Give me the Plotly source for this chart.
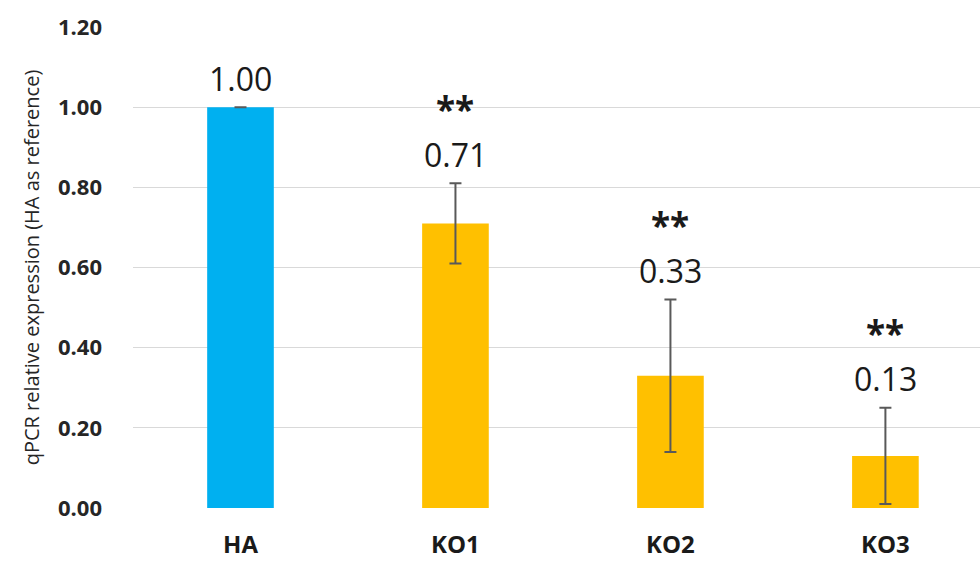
import plotly.graph_objects as go

categories = ["HA", "KO1", "KO2", "KO3"]
values = [1.00, 0.71, 0.33, 0.13]
errors = [0.0, 0.10, 0.19, 0.12]
significance = ["", "**", "**", "**"]
bar_colors = ["#00B0F0", "#FFC000", "#FFC000", "#FFC000"]
y_ticks = [0, 0.2, 0.4, 0.6, 0.8, 1.0, 1.2]

fig = go.Figure()
fig.add_trace(go.Bar(
    x=categories, y=values, width=0.31,
    marker=dict(color=bar_colors, line=dict(width=0)),
    error_y=dict(type="data", array=errors, visible=True, color="#595959", thickness=2, width=6),
))

for c, v, e, s in zip(categories, values, errors, significance):
    fig.add_annotation(x=c, y=v + e, text=f"{v:.2f}", showarrow=False, yanchor="middle",
                       yshift=29, font=dict(family="Open Sans, Noto Sans, sans-serif", size=32, color="#1a1a1a"))
    if s:
        fig.add_annotation(x=c, y=v + e, text=s, showarrow=False, yanchor="middle",
                           yshift=75, font=dict(family="Open Sans, sans-serif", size=35, color="#1a1a1a", weight="bold"))

fig.update_layout(
    width=980, height=561,
    margin=dict(l=133, r=0, t=27, b=53),
    plot_bgcolor="white", paper_bgcolor="white",
    showlegend=False,
    xaxis=dict(range=[-0.5, 3.44], showgrid=False, zeroline=False, showline=False, automargin=False,
               tickfont=dict(family="Open Sans, sans-serif", size=24, color="#1a1a1a", weight="bold"),
               ticklabelstandoff=20),
    yaxis=dict(range=[0, 1.2], tickvals=y_ticks, tickformat=".2f", automargin=False,
               showgrid=True, gridcolor="#d9d9d9", gridwidth=1.2, zeroline=False, showline=False,
               tickfont=dict(family="Open Sans, sans-serif", size=22, color="#262626", weight="bold"),
               ticklabelstandoff=30,
               title=dict(text="qPCR relative expression (HA as reference)", standoff=12,
                          font=dict(family="Open Sans, sans-serif", size=20, color="#262626"))),
)

fig.write_html("out.html", config={"displayModeBar": False},
               post_script="document.body.style.margin='0';document.body.style.overflow='hidden';")
